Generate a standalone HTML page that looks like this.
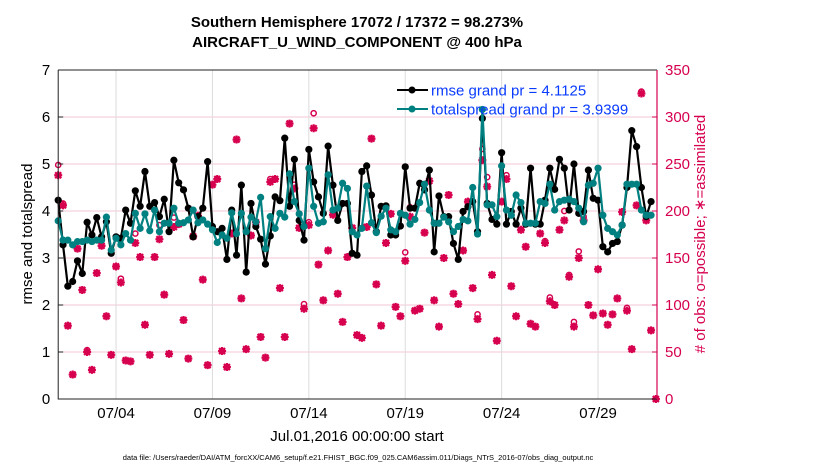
<!DOCTYPE html>
<html><head><meta charset="utf-8">
<style>
body{margin:0;background:#fff;}
svg{display:block;font-family:"Liberation Sans",Arial,sans-serif;}
</style></head>
<body>
<svg id="chart" width="830" height="470" viewBox="0 0 830 470" xmlns="http://www.w3.org/2000/svg">
<rect x="0" y="0" width="830" height="470" fill="#fff"/>
<g id="grid"></g>
<g id="obs"></g>
<g id="lines"></g>
<g id="axes"></g>
<text x="357" y="27" text-anchor="middle" font-size="15" font-weight="bold">Southern Hemisphere 17072 / 17372 = 98.273%</text>
<text x="357" y="47" text-anchor="middle" font-size="15" font-weight="bold">AIRCRAFT_U_WIND_COMPONENT @ 400 hPa</text>
<text transform="translate(32,234) rotate(-90)" text-anchor="middle" font-size="15">rmse and totalspread</text>
<text transform="translate(705,234) rotate(-90)" text-anchor="middle" font-size="15" fill="#d6004f"># of obs: o=possible; ∗=assimilated</text>
<text x="357" y="441" text-anchor="middle" font-size="15">Jul.01,2016 00:00:00 start</text>
<text x="358" y="460" text-anchor="middle" font-size="7.5">data file: /Users/raeder/DAI/ATM_forcXX/CAM6_setup/f.e21.FHIST_BGC.f09_025.CAM6assim.011/Diags_NTrS_2016-07/obs_diag_output.nc</text>
<g>
<line x1="397" y1="90" x2="428" y2="90" stroke="#000" stroke-width="2"/>
<circle cx="412" cy="90" r="3.5" fill="#000"/>
<text x="431" y="95.5" font-size="15" fill="#0a3cff">rmse grand pr = 4.1125</text>
<line x1="397" y1="109" x2="428" y2="109" stroke="#008080" stroke-width="2"/>
<circle cx="412" cy="109" r="3.5" fill="#008080"/>
<text x="431" y="114.5" font-size="15" fill="#0a3cff">totalspread grand pr = 3.9399</text>
</g>
</svg>
<script>
const rmse = [4.23,3.28,2.4,2.5,2.94,2.67,3.76,3.49,3.86,3.45,3.77,3.1,3.45,3.42,4.02,3.74,4.43,4.1,4.84,4.1,4.18,3.88,4.25,3.56,5.08,4.6,4.45,4.06,3.45,3.88,4.06,5.05,
3.67,3.56,3.63,2.97,4.02,3.06,4.55,2.7,4.16,3.67,3.4,2.87,3.47,4.3,4.22,5.55,4.1,5.1,3.8,3.38,5.31,4.62,4.3,3.95,5.38,4.55,3.8,4.16,4.16,3.1,3.06,
4.84,4.96,4.34,3.56,4.1,4.11,3.49,3.49,3.68,4.94,4.06,4.06,4.59,4.45,4.87,3.13,4.32,3.88,3.88,3.31,2.97,3.99,4.09,4.2,3.56,5.97,4.16,3.82,3.72,
5.24,3.72,3.99,3.72,4.06,3.72,4.91,3.72,3.72,4.23,4.91,4.46,5.1,4.91,4.02,5.0,3.95,3.99,4.87,4.27,4.23,3.24,3.13,3.31,3.35,3.7,4.5,5.71,5.37,4.5,3.88,4.2];
const spread = [3.79,3.38,3.38,3.28,3.35,3.35,3.38,3.35,3.38,3.38,3.87,3.17,3.42,3.28,3.52,3.38,3.95,3.63,3.94,3.58,4.02,3.56,3.74,3.74,4.06,3.74,3.75,3.81,4.02,3.75,3.81,3.72,
3.6,3.33,3.49,3.42,3.96,3.52,3.95,3.56,3.87,3.77,4.29,3.2,3.88,3.63,3.95,3.87,4.79,4.2,3.94,3.67,4.91,4.1,3.74,3.77,4.77,4.02,4.06,4.59,4.48,3.56,3.49,
3.63,4.53,3.75,3.54,3.89,4.06,3.6,3.56,3.95,3.91,3.72,3.82,4.18,4.57,4.02,3.74,3.74,3.87,3.77,3.56,3.67,3.82,3.79,4.5,3.51,6.16,4.13,4.13,3.88,
4.96,4.02,3.91,4.34,4.18,3.74,3.74,3.74,4.2,4.16,4.57,4.02,4.2,4.23,4.25,4.2,4.06,3.77,4.55,4.59,4.91,3.91,3.63,3.56,3.49,3.70,4.57,4.57,4.57,4.02,3.91,3.91];
const assimilated = [238,206,78,26,160,116,50,31,134,163,88,47,141,124,41,40,166,151,79,47,151,170,111,48,183,186,84,43,173,195,127,36,
228,234,51,34,176,276,107,53,174,188,66,44,231,234,118,66,293,224,182,96,185,288,143,105,158,196,112,82,151,182,68,
65,183,277,122,78,166,197,98,88,147,194,94,96,177,232,105,77,150,217,112,101,158,210,118,85,254,226,132,62,
210,234,120,88,180,162,80,77,176,166,104,100,180,190,130,77,150,190,100,89,138,91,79,90,107,199,94,53,206,325,190,73,0];
const possible = [249,208,78,26,160,116,52,31,134,163,88,47,141,128,41,40,176,151,79,47,151,185,111,48,193,186,84,43,173,195,127,36,
228,234,51,34,176,276,107,53,174,188,66,44,234,234,118,66,293,228,182,101,188,304,143,105,158,201,112,82,151,182,68,
65,183,277,122,78,166,197,98,88,156,204,94,96,177,232,105,77,150,217,112,101,158,210,118,90,266,236,132,62,
210,238,120,88,180,162,80,77,176,168,108,100,180,200,132,82,157,194,100,89,138,91,79,90,107,199,97,53,206,327,190,73,0];
const yTicks = [0,1,2,3,4,5,6,7];
const rTicks = [0,50,100,150,200,250,300,350];
const xTickDays = [3,8,13,18,23,28];
const xTickLabels = ['07/04','07/09','07/14','07/19','07/24','07/29'];

const X0=58.2, X1=657, YT=70, YB=399, DAYPX=19.28;
const xs = d => X0 + d*DAYPX;
const xi = i => xs(i*0.25);
const yl = v => YB - v*(YB-YT)/7;
const yr = v => YB - v*(YB-YT)/350;
const NS='http://www.w3.org/2000/svg';
function mk(tag, attrs, parent){const e=document.createElementNS(NS,tag);for(const k in attrs)e.setAttribute(k,attrs[k]);parent.appendChild(e);return e;}
const grid=document.getElementById('grid'), axes=document.getElementById('axes'), obs=document.getElementById('obs'), lines=document.getElementById('lines');

yTicks.forEach(v=>{ if(v>0&&v<7){const l=mk('line',{x1:X0,x2:X1,y1:yl(v),y2:yl(v),stroke:'#f3c6d6','stroke-width':1},grid);

}
 const t=mk('text',{x:X0-8,y:yl(v)+5,'text-anchor':'end','font-size':15},axes); t.textContent=v;
 
 
 const tk=mk('line',{x1:X0,x2:X0+5,y1:yl(v),y2:yl(v),stroke:'#222'},axes);
 
 
});
rTicks.forEach(v=>{const t=mk('text',{x:X1+8,y:yr(v)+5,'font-size':15,fill:'#d6004f'},axes); t.textContent=v;
 
 
 const tk=mk('line',{x1:X1-5,x2:X1,y1:yr(v),y2:yr(v),stroke:'#d6004f'},axes);
 
 
});
xTickDays.forEach((d,i)=>{const l=mk('line',{x1:xs(d),x2:xs(d),y1:YT,y2:YB,stroke:'#dcdcdc'},grid);
 
 
 const t=mk('text',{x:xs(d),y:418,'text-anchor':'middle','font-size':15},axes); t.textContent=xTickLabels[i];
 
 
});
const frame=mk('path',{d:`M${X0},${YT}H${X1}M${X0},${YT}V${YB}H${X1}`,fill:'none',stroke:'#222','stroke-width':1},axes);


const rax=mk('line',{x1:X1,x2:X1,y1:YT,y2:YB,stroke:'#d6004f','stroke-width':1.2},axes);



const PINK='#d6004f';
assimilated.forEach((v,i)=>{const x=xi(i),y=yr(v);
 const g=mk('g',{},obs);
 
 
 mk('path',{d:`M${x-4},${y}H${x+4}M${x},${y-4}V${y+4}M${x-3},${y-3}L${x+3},${y+3}M${x-3},${y+3}L${x+3},${y-3}`,stroke:PINK,'stroke-width':2.2},g);
 mk('circle',{cx:x,cy:y,r:2.5,fill:PINK},g);
});
possible.forEach((v,i)=>{const c=mk('circle',{cx:xi(i),cy:yr(v),r:2.6,fill:'none',stroke:PINK,'stroke-width':1.5},obs);
 
 
});
function series(arr,color,name){
 const p=mk('polyline',{points:arr.map((v,i)=>xi(i)+','+yl(v)).join(' '),fill:'none',stroke:color,'stroke-width':2.2,'stroke-linejoin':'round'},lines);
 
 
 arr.forEach((v,i)=>{const c=mk('circle',{cx:xi(i),cy:yl(v),r:3.6,fill:color},lines);
  
  });
}
series(rmse,'#000','rmse');
series(spread,'#008080','totalspread');
</script>
</body></html>
